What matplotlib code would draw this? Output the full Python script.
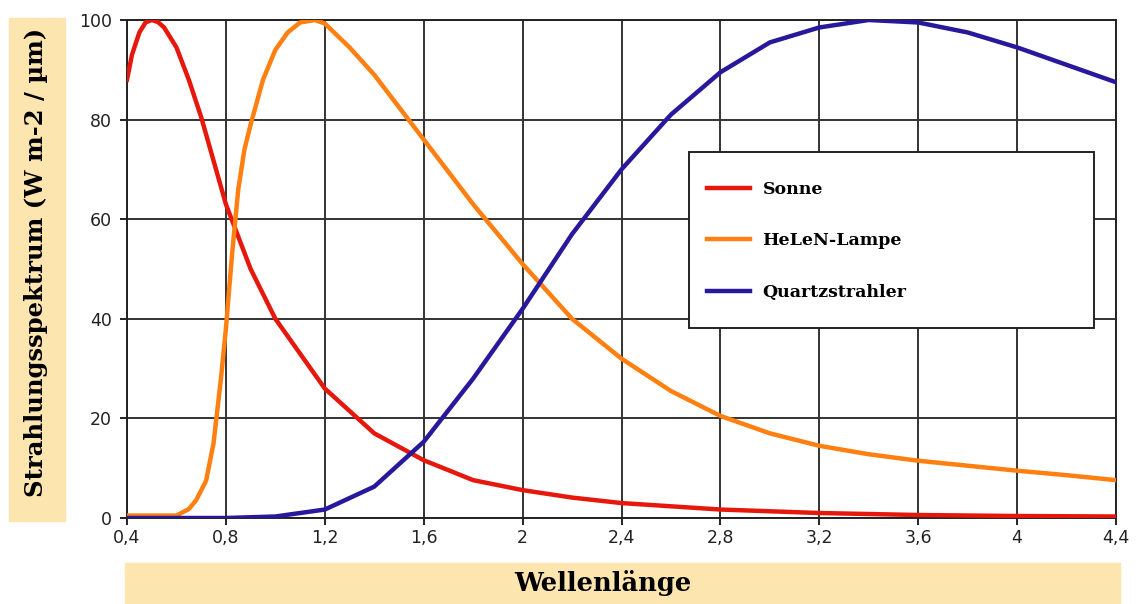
import matplotlib
matplotlib.use('Agg')
import matplotlib.pyplot as plt
from matplotlib.patches import Rectangle
from matplotlib.ticker import FuncFormatter

# wavelength in um, spectrum in % of peak
sonne_x = [0.4, 0.42, 0.45, 0.475, 0.5, 0.525, 0.55, 0.6, 0.65, 0.7, 0.8, 0.9, 1.0, 1.2, 1.4, 1.6, 1.8, 2.0, 2.2, 2.4, 2.8, 3.2, 3.6, 4.0, 4.4]
sonne_y = [88, 93, 97.5, 99.5, 100, 99.6, 98.5, 94.5, 88, 80.5, 63, 50, 40, 26, 17, 11.6, 7.6, 5.6, 4.1, 3.0, 1.7, 1.0, 0.6, 0.4, 0.3]

helen_x = [0.4, 0.6, 0.65, 0.68, 0.72, 0.75, 0.78, 0.8, 0.825, 0.85, 0.875, 0.9, 0.95, 1.0, 1.05, 1.1, 1.16, 1.2, 1.3, 1.4, 1.6, 1.8, 2.0, 2.2, 2.4, 2.6, 2.8, 3.0, 3.2, 3.4, 3.6, 3.8, 4.0, 4.2, 4.4]
helen_y = [0.5, 0.5, 1.8, 3.6, 7.5, 15, 28, 38, 53, 66, 74, 79, 88, 94, 97.5, 99.5, 100, 99.3, 94.5, 89, 76, 63, 51, 40, 32, 25.5, 20.5, 17, 14.5, 12.8, 11.5, 10.5, 9.5, 8.6, 7.6]

quartz_x = [0.4, 0.8, 1.0, 1.2, 1.4, 1.6, 1.8, 2.0, 2.2, 2.4, 2.6, 2.8, 3.0, 3.2, 3.4, 3.6, 3.8, 4.0, 4.2, 4.4]
quartz_y = [0, 0, 0.3, 1.7, 6.3, 15.3, 28, 42, 57, 70, 81, 89.5, 95.5, 98.5, 100, 99.5, 97.5, 94.5, 91, 87.5]

labels = ['Sonne', 'HeLeN-Lampe', 'Quartzstrahler']
colors = ['#e6170c', '#ff7f10', '#28189c']

W, H = 1141, 604
fig = plt.figure(figsize=(W / 100, H / 100), dpi=100)
ax = fig.add_axes([127 / W, (H - 518) / H, (1116 - 127) / W, 498 / H])

ax.plot(sonne_x, sonne_y, color=colors[0], lw=3.2, label=labels[0], zorder=3)
ax.plot(helen_x, helen_y, color=colors[1], lw=3.2, label=labels[1], zorder=3)
ax.plot(quartz_x, quartz_y, color=colors[2], lw=3.2, label=labels[2], zorder=3)

ax.set_xlim(0.4, 4.4)
ax.set_ylim(0, 100)
ax.set_xticks([0.4 + 0.4 * i for i in range(11)])
ax.set_yticks(range(0, 101, 20))
ax.xaxis.set_major_formatter(FuncFormatter(lambda v, p: ('%g' % round(v, 1)).replace('.', ',')))
ax.grid(True, color='#333333', lw=1.4, zorder=1)
for s in ax.spines.values():
    s.set_color('#222222')
    s.set_linewidth(1.4)
ax.tick_params(length=5, width=1.4, color='#222222', labelsize=12.5, colors='#222222')
ax.tick_params(axis='y', pad=6)
ax.tick_params(axis='x', pad=3)

# label boxes
fig.patches.append(Rectangle((9 / W, (H - 521) / H), 56 / W, 503 / H,
                             transform=fig.transFigure, color='#fde5b0', zorder=0))
fig.patches.append(Rectangle((125 / W, 0), 995 / W, (H - 563) / H,
                             transform=fig.transFigure, color='#fde5b0', zorder=0))
fig.text(36 / W, (H - 262) / H, 'Strahlungsspektrum (W m-2 / µm)', rotation=90,
         ha='center', va='center', family='DejaVu Serif', weight='bold', fontsize=17.5)
fig.text(603 / W, (H - 583) / H, 'Wellenlänge', ha='center', va='center',
         family='DejaVu Serif', weight='bold', fontsize=18.5)

# legend: white box with frame, entries placed inside it
ax.add_patch(Rectangle(((689 - 127) / 989, (518 - 328) / 498), (1094 - 689) / 989, (328 - 152) / 498,
                       transform=ax.transAxes, facecolor='white', edgecolor='#222222', lw=1.4, zorder=4))
leg = ax.legend(loc='upper left', bbox_to_anchor=((707 - 127) / 989, (518 - 181) / 498),
                frameon=False, prop={'family': 'DejaVu Serif', 'weight': 'bold', 'size': 12.5},
                handlelength=2.5, handletextpad=0.7, labelspacing=1.98, borderpad=0, borderaxespad=0)
leg.set_zorder(5)

fig.savefig('out.png', dpi=100)
